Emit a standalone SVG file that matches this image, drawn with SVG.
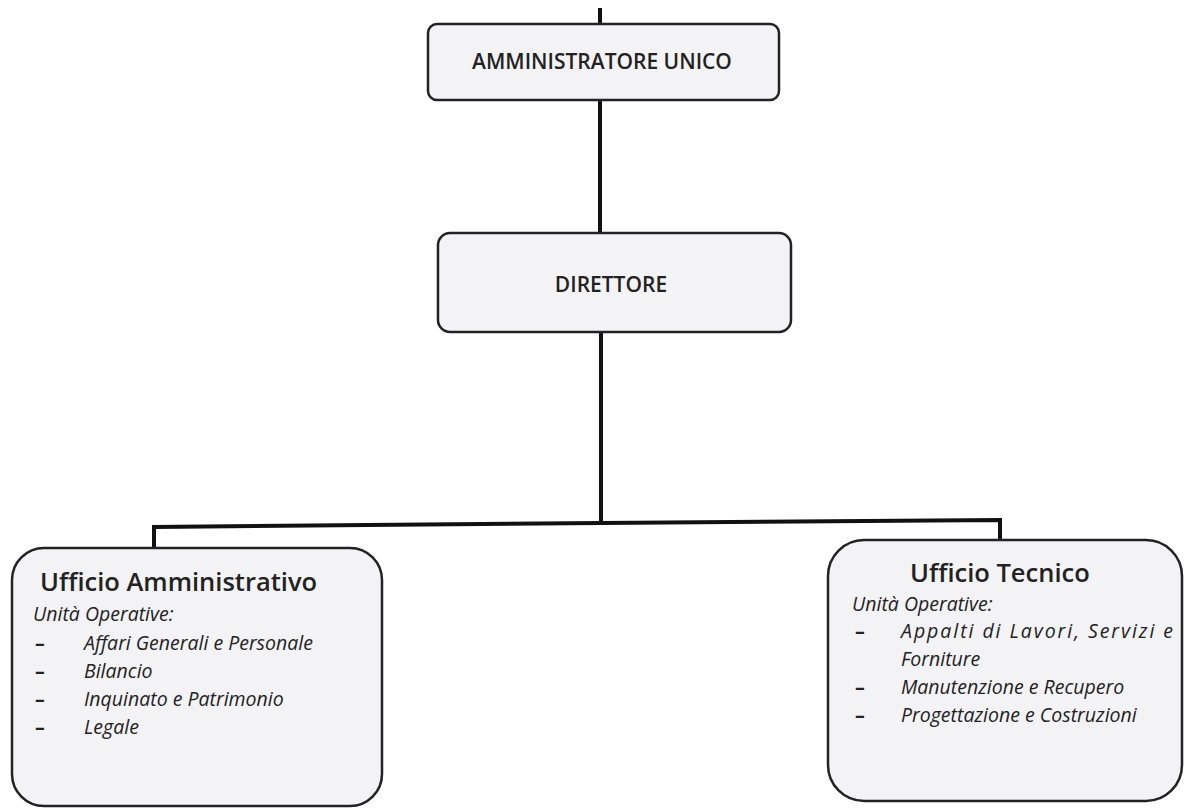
<svg xmlns="http://www.w3.org/2000/svg" width="1186" height="809" viewBox="0 0 1186 809">
<style>
.box{fill:#f3f3f6;stroke:#222;stroke-width:2.5}
.con{fill:none;stroke:#111;stroke-width:4}
.hdr{font-family:"Open Sans",sans-serif;font-size:21px;font-weight:600;fill:#222;text-anchor:middle}
.ttl{font-family:"Open Sans",sans-serif;font-size:25.5px;font-weight:600;fill:#222}
.it{font-family:"Open Sans",sans-serif;font-size:19.5px;font-style:italic;fill:#222}
.dash{font-family:"Open Sans",sans-serif;font-size:19.5px;font-weight:700;fill:#222}
</style>
<rect width="1186" height="809" fill="#fff"/>
<g id="connectors">
<line class="con" x1="600" y1="8" x2="600" y2="25"/>
<line class="con" x1="600" y1="100" x2="600" y2="234"/>
<line class="con" x1="601" y1="331" x2="601" y2="524"/>
<polyline class="con" points="154,550 154,527 601,523 1000,520 1000,541"/>
</g>
<g id="amministratore">
<rect class="box" x="428" y="24" width="351" height="76" rx="9"/>
<text class="hdr" x="602" y="69">AMMINISTRATORE UNICO</text>
</g>
<g id="direttore">
<rect class="box" x="438" y="233" width="353" height="99" rx="12"/>
<text class="hdr" x="611" y="292">DIRETTORE</text>
</g>
<g id="ufficio-amministrativo">
<rect class="box" x="12" y="548" width="370" height="258" rx="32"/>
<text class="ttl" x="40" y="591">Ufficio Amministrativo</text>
<text class="it" x="33" y="621">Unità Operative:</text>
<text class="dash" x="35" y="650">–</text><text class="it" x="84" y="650">Affari Generali e Personale</text>
<text class="dash" x="35" y="678">–</text><text class="it" x="84" y="678">Bilancio</text>
<text class="dash" x="35" y="706">–</text><text class="it" x="84" y="706">Inquinato e  Patrimonio</text>
<text class="dash" x="35" y="734">–</text><text class="it" x="84" y="734">Legale</text>
</g>
<g id="ufficio-tecnico">
<rect class="box" x="828" y="540" width="354" height="261" rx="36"/>
<text class="ttl" x="910" y="582">Ufficio Tecnico</text>
<text class="it" x="852" y="611">Unità Operative:</text>
<text class="dash" x="855" y="638">–</text><text class="it" x="901" y="638" textLength="272" lengthAdjust="spacing">Appalti di Lavori, Servizi e</text>
<text class="it" x="901" y="666">Forniture</text>
<text class="dash" x="855" y="694">–</text><text class="it" x="901" y="694">Manutenzione e Recupero</text>
<text class="dash" x="855" y="722">–</text><text class="it" x="901" y="722">Progettazione e Costruzioni</text>
</g>
</svg>
